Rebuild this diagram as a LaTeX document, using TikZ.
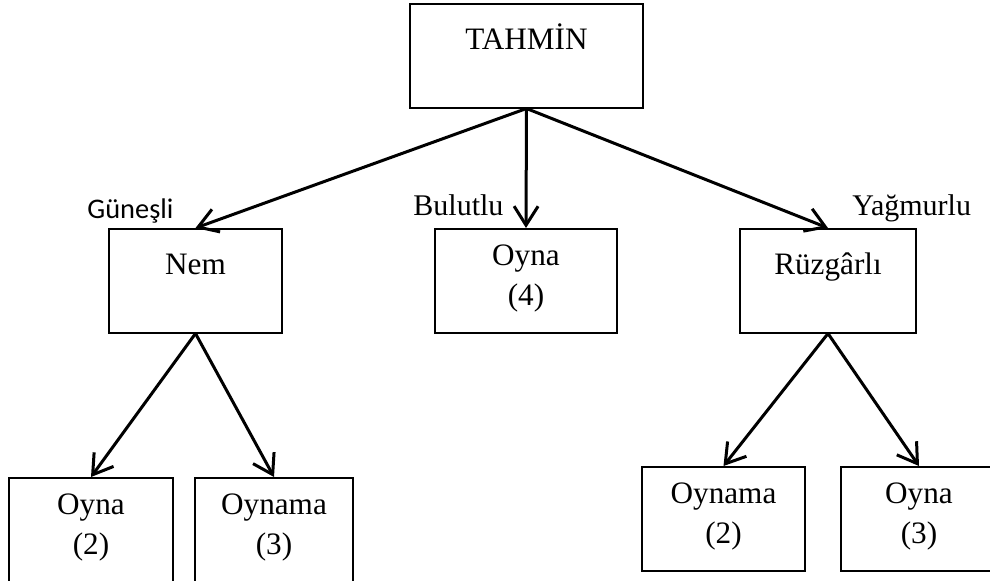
\documentclass[tikz,border=0pt]{standalone}
\usepackage{fontspec}
\setmainfont{Liberation Serif}
\newfontfamily\calibri{Carlito}
\usetikzlibrary{arrows.meta}
\newcommand{\twoline}[2]{\begin{tabular}[t]{@{}c@{}}#1\\#2\end{tabular}}
\tikzset{
  box/.style={draw, line width=0.75pt, inner sep=0pt, anchor=north,
    minimum width=#1, text height=23pt, text depth=29pt,
    font=\fontsize{15.6}{20}\selectfont},
  pair/.style={text height=18.5pt, text depth=33.5pt},
  leg/.style={anchor=base west, inner sep=0pt, font=\fontsize{15}{18}\selectfont}
}
\begin{document}
\begin{tikzpicture}[x=0.5pt, y=-0.5pt]
      \useasboundingbox (0,0) rectangle (990,580);
      \clip (0,0) rectangle (990,580);
      \node[box=116.5pt] (tahmin) at (526.5,3) {TAHMİN};
      \node[box=86.5pt] (nem) at (195.5,228) {Nem};
      \node[box=91pt, pair] (oyna4) at (526,228) {\twoline{Oyna}{(4)}};
      \node[box=88pt] (ruzgar) at (828,228) {Rüzgârlı};
      \node[box=82pt, pair] (oyna2) at (91,477) {\twoline{Oyna}{(2)}};
      \node[box=79pt, pair] (oynama3) at (274,477) {\twoline{Oynama}{(3)}};
      \node[box=81.5pt, pair] (oynama2) at (723.5,466) {\twoline{Oynama}{(2)}};
      \node[box=78pt, pair] (oyna3) at (919,466) {\twoline{Oyna}{(3)}};
      \node[leg, font=\calibri\fontsize{14.2}{17}\selectfont] (gunesli) at (87,218) {Güneşli};
      \node[leg] (bulutlu) at (413,215) {Bulutlu};
      \node[leg] (yagmurlu) at (852,215) {Yağmurlu};
      \begin{scope}[-{Straight Barb[length=9.5pt, width=12pt]}, line width=1.5pt]
        \draw (tahmin.south) to (nem.north);
        \draw (tahmin.south) to (oyna4.north);
        \draw (tahmin.south) to (ruzgar.north);
        \draw (nem.south) to (oyna2.north);
        \draw (nem.south) to (oynama3.north);
        \draw (ruzgar.south) to (oynama2.north);
        \draw (ruzgar.south) to (oyna3.north);
      \end{scope}
    \end{tikzpicture}
\end{document}
